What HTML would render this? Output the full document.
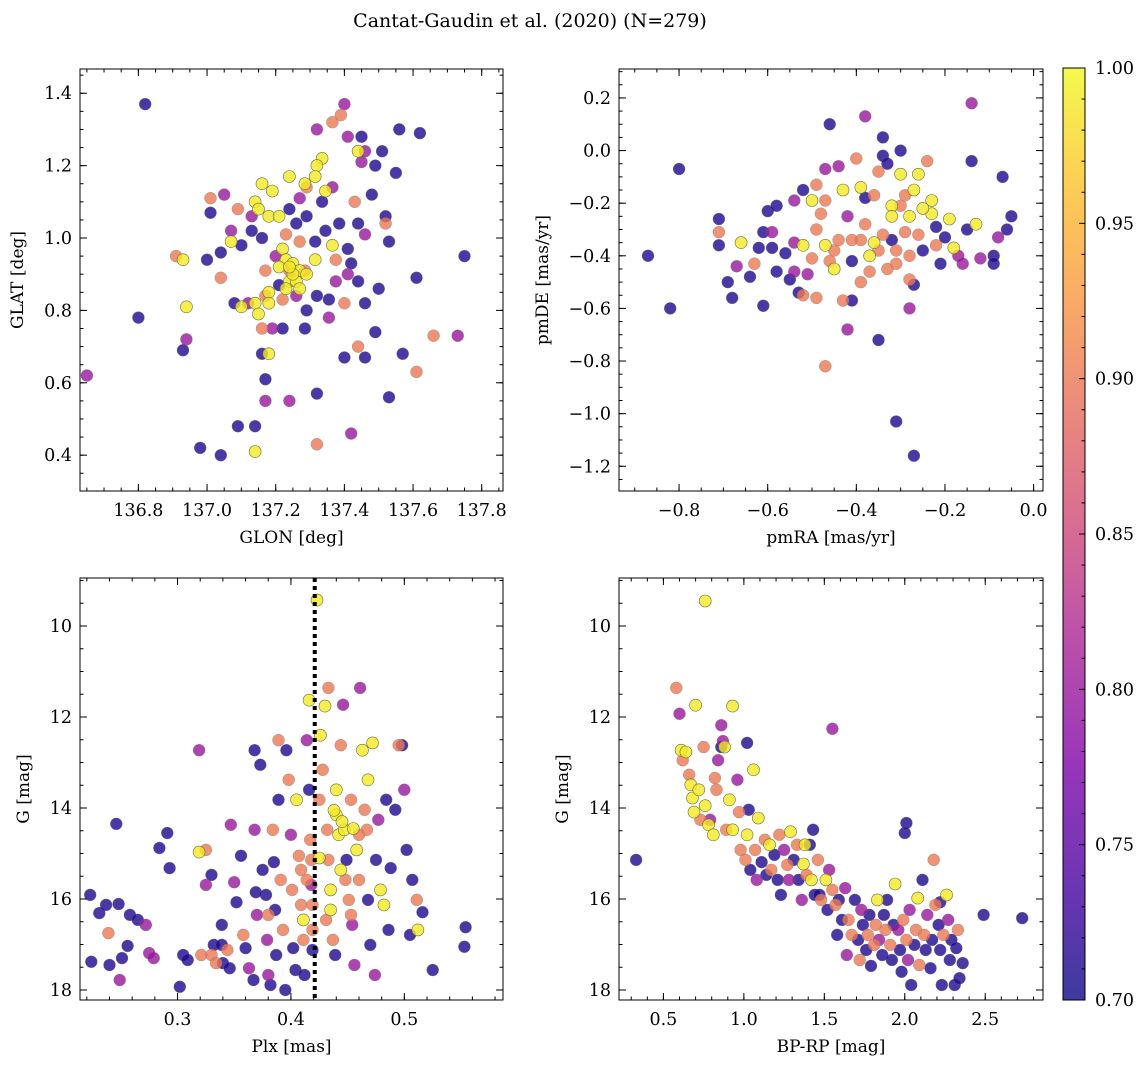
<!DOCTYPE html>
<html><head><meta charset="utf-8">
<style>
body{margin:0;background:#fff;}
svg{display:block;font-family:"DejaVu Serif","Liberation Serif",serif;}
</style></head>
<body>
<svg id="fig" width="1148" height="1068" viewBox="0 0 1148 1068" xmlns="http://www.w3.org/2000/svg">
<rect width="1148" height="1068" fill="#fff"/>
<text x="530" y="27" font-size="19" text-anchor="middle">Cantat-Gaudin et al. (2020) (N=279)</text>
</svg>
<script>
// ---- data: [x, y, membership probability] ----
const b=0.71,p=0.80,s=0.90,y=0.99;
const posData=[[136.82,1.37,b],[136.65,0.62,p],[136.80,0.78,b],[136.93,0.69,b],[136.94,0.72,p],[136.98,0.42,b],[137.04,0.40,b],[137.09,0.48,b],[137.14,0.48,b],[137.14,0.41,y],[137.17,0.61,b],[137.17,0.55,p],[137.24,0.55,p],[137.32,0.57,b],[137.32,0.43,s],[137.42,0.46,p],[137.44,0.70,s],[137.40,0.67,b],[137.46,0.67,b],[137.49,0.74,b],[137.57,0.68,b],[137.53,0.56,b],[137.61,0.63,s],[137.66,0.73,s],[137.73,0.73,p],[137.75,0.95,b],[137.61,0.89,b],[137.56,1.30,b],[137.62,1.29,b],[137.55,1.18,b],[137.52,1.06,b],[137.53,0.99,b],[137.50,0.86,b],[137.40,1.37,p],[137.39,1.34,s],[137.365,1.32,s],[137.32,1.30,p],[137.41,1.28,p],[137.45,1.28,b],[137.46,1.24,p],[137.44,1.24,y],[137.51,1.24,b],[137.49,1.20,b],[137.45,1.21,p],[137.335,1.22,y],[137.32,1.20,y],[137.315,1.17,y],[137.285,1.15,y],[137.24,1.17,y],[137.19,1.13,y],[137.16,1.15,y],[137.14,1.10,y],[137.15,1.08,y],[137.18,1.06,y],[137.21,1.06,y],[137.13,1.06,p],[137.09,1.08,s],[137.01,1.11,s],[137.05,1.12,p],[137.01,1.07,b],[137.07,1.02,p],[137.07,0.99,y],[137.10,0.98,b],[137.04,0.96,b],[137.0,0.94,b],[136.91,0.95,s],[136.93,0.94,y],[136.94,0.81,y],[137.04,0.89,s],[137.08,0.82,b],[137.12,0.82,p],[137.10,0.81,y],[137.14,0.82,y],[137.15,0.79,y],[137.18,0.85,y],[137.21,0.87,b],[137.24,0.91,s],[137.18,0.82,y],[137.16,0.75,s],[137.19,0.75,p],[137.22,0.75,b],[137.285,0.75,b],[137.18,0.68,y],[137.16,0.68,b],[137.17,0.91,s],[137.20,0.95,p],[137.22,0.97,y],[137.27,0.99,s],[137.23,1.01,s],[137.26,1.04,b],[137.29,1.06,b],[137.315,0.99,b],[137.315,0.94,y],[137.23,0.94,y],[137.25,0.93,y],[137.27,0.91,y],[137.21,0.92,y],[137.24,0.88,y],[137.26,0.88,y],[137.29,0.90,y],[137.22,0.83,s],[137.26,0.84,p],[137.32,0.84,b],[137.355,0.83,b],[137.375,0.88,p],[137.375,0.94,s],[137.365,0.98,y],[137.345,1.02,b],[137.385,1.04,b],[137.41,0.97,b],[137.42,0.93,b],[137.41,0.90,p],[137.44,0.88,b],[137.46,0.82,b],[137.40,0.82,s],[137.46,1.01,p],[137.43,1.10,s],[137.48,1.12,b],[137.44,1.04,b],[137.52,1.04,s],[137.335,1.10,b],[137.345,1.13,y],[137.365,1.14,p],[137.29,1.14,s],[137.27,1.11,p],[137.24,1.08,b],[137.13,1.02,b],[137.16,1.00,b],[137.29,0.80,b],[137.355,0.78,p],[137.285,0.91,s],[137.17,0.84,s],[137.25,0.90,y],[137.23,0.86,y],[137.27,0.86,y],[137.24,0.92,y]];
const pmData=[[-0.87,-0.40,b],[-0.82,-0.60,b],[-0.80,-0.07,b],[-0.71,-0.26,b],[-0.71,-0.36,b],[-0.71,-0.31,s],[-0.69,-0.50,b],[-0.68,-0.56,b],[-0.67,-0.44,p],[-0.66,-0.35,y],[-0.64,-0.48,b],[-0.63,-0.43,s],[-0.62,-0.37,b],[-0.61,-0.59,b],[-0.61,-0.31,b],[-0.59,-0.31,p],[-0.59,-0.37,b],[-0.60,-0.23,b],[-0.58,-0.21,b],[-0.58,-0.46,b],[-0.56,-0.39,b],[-0.55,-0.49,b],[-0.54,-0.35,p],[-0.54,-0.46,p],[-0.53,-0.54,b],[-0.52,-0.36,y],[-0.51,-0.47,p],[-0.50,-0.41,s],[-0.49,-0.30,s],[-0.54,-0.19,p],[-0.52,-0.15,b],[-0.50,-0.19,y],[-0.49,-0.13,s],[-0.48,-0.24,s],[-0.47,-0.19,s],[-0.46,0.10,b],[-0.47,-0.07,p],[-0.47,-0.82,s],[-0.49,-0.56,s],[-0.47,-0.36,y],[-0.45,-0.45,y],[-0.45,-0.38,s],[-0.44,-0.06,p],[-0.43,-0.15,y],[-0.42,-0.25,p],[-0.41,-0.34,s],[-0.41,-0.42,b],[-0.42,-0.68,p],[-0.41,-0.57,b],[-0.39,-0.50,s],[-0.38,0.13,p],[-0.40,-0.03,s],[-0.39,-0.14,y],[-0.38,-0.28,s],[-0.38,-0.18,b],[-0.37,-0.40,y],[-0.37,-0.46,s],[-0.36,-0.17,s],[-0.35,-0.08,s],[-0.35,-0.72,b],[-0.34,0.05,b],[-0.34,-0.02,b],[-0.33,-0.05,b],[-0.32,-0.21,y],[-0.32,-0.34,b],[-0.33,-0.45,s],[-0.31,-1.03,b],[-0.30,0.0,b],[-0.30,-0.09,y],[-0.30,-0.21,s],[-0.29,-0.17,s],[-0.29,-0.31,s],[-0.28,-0.40,s],[-0.28,-0.49,s],[-0.28,-0.60,p],[-0.27,-0.51,b],[-0.27,-1.16,b],[-0.26,-0.09,y],[-0.27,-0.15,y],[-0.24,-0.04,s],[-0.23,-0.19,y],[-0.23,-0.24,y],[-0.22,-0.29,b],[-0.22,-0.36,s],[-0.21,-0.43,b],[-0.20,-0.33,b],[-0.19,-0.26,y],[-0.18,-0.37,y],[-0.17,-0.40,p],[-0.16,-0.43,p],[-0.15,-0.30,b],[-0.14,0.18,p],[-0.14,-0.04,b],[-0.13,-0.28,y],[-0.12,-0.41,p],[-0.09,-0.40,b],[-0.09,-0.43,b],[-0.08,-0.33,p],[-0.07,-0.10,b],[-0.05,-0.25,b],[-0.06,-0.30,b],[-0.34,-0.32,s],[-0.35,-0.38,s],[-0.31,-0.38,s],[-0.31,-0.43,s],[-0.32,-0.25,y],[-0.26,-0.32,s],[-0.25,-0.22,y],[-0.25,-0.38,b],[-0.39,-0.34,s],[-0.44,-0.34,s],[-0.46,-0.42,s],[-0.52,-0.55,s],[-0.43,-0.57,s],[-0.36,-0.35,y],[-0.28,-0.25,y]];
const plxData=[[0.223,15.91,b],[0.224,17.38,b],[0.231,16.31,b],[0.237,16.13,b],[0.239,16.75,s],[0.240,17.45,b],[0.246,14.35,b],[0.248,16.11,b],[0.249,17.78,p],[0.251,17.30,b],[0.256,17.03,b],[0.258,16.35,b],[0.265,16.46,b],[0.272,16.57,p],[0.275,17.19,p],[0.279,17.30,p],[0.284,14.88,b],[0.291,14.55,b],[0.293,15.32,b],[0.302,17.93,b],[0.305,17.23,b],[0.309,17.34,b],[0.319,12.73,p],[0.319,14.97,y],[0.321,17.23,s],[0.325,14.92,s],[0.325,15.69,p],[0.330,15.47,b],[0.330,17.23,s],[0.332,17.01,b],[0.334,17.41,s],[0.339,16.57,b],[0.339,17.01,b],[0.340,17.41,b],[0.344,17.12,s],[0.346,17.52,b],[0.347,14.37,p],[0.350,15.63,p],[0.352,16.07,b],[0.356,15.05,b],[0.358,16.79,s],[0.360,17.08,b],[0.363,17.52,p],[0.367,17.78,b],[0.368,12.73,b],[0.368,14.48,p],[0.370,16.35,p],[0.373,13.05,b],[0.375,15.36,b],[0.378,15.91,b],[0.379,16.90,p],[0.380,17.67,p],[0.382,17.89,b],[0.384,14.48,s],[0.385,15.19,b],[0.386,16.24,b],[0.387,17.23,b],[0.389,12.51,s],[0.389,13.82,b],[0.391,15.58,s],[0.393,16.68,s],[0.395,18.0,b],[0.396,12.73,b],[0.398,13.38,s],[0.400,14.59,p],[0.401,15.80,s],[0.402,17.08,b],[0.404,17.56,b],[0.405,13.82,y],[0.407,15.05,s],[0.409,16.13,s],[0.411,16.46,y],[0.411,16.90,s],[0.412,17.67,b],[0.414,12.51,p],[0.414,15.58,s],[0.416,11.63,y],[0.416,13.60,b],[0.417,14.70,s],[0.418,15.14,s],[0.418,15.69,p],[0.419,16.13,s],[0.419,16.68,s],[0.419,17.12,b],[0.423,9.43,y],[0.425,13.82,s],[0.426,12.40,y],[0.428,13.16,s],[0.430,11.76,y],[0.432,14.48,s],[0.433,11.36,s],[0.433,15.14,s],[0.435,15.80,y],[0.435,16.24,y],[0.437,16.90,s],[0.439,17.23,b],[0.440,13.60,y],[0.440,14.15,y],[0.442,14.59,y],[0.444,15.36,y],[0.444,12.62,s],[0.446,11.73,p],[0.447,14.48,y],[0.449,15.14,b],[0.451,16.02,s],[0.453,16.35,s],[0.454,16.57,p],[0.456,17.45,p],[0.458,14.92,y],[0.460,15.58,s],[0.461,11.36,p],[0.463,12.73,y],[0.465,14.04,s],[0.467,14.48,s],[0.468,13.38,y],[0.468,16.02,b],[0.470,17.01,b],[0.472,12.57,y],[0.474,17.67,p],[0.475,15.14,b],[0.477,14.26,p],[0.479,15.80,y],[0.482,16.13,y],[0.484,13.82,b],[0.486,16.68,b],[0.488,15.32,b],[0.492,14.04,b],[0.495,12.62,s],[0.498,12.62,b],[0.500,13.60,p],[0.502,14.92,b],[0.505,16.79,b],[0.507,15.58,b],[0.511,16.02,s],[0.512,16.68,y],[0.516,16.29,b],[0.525,17.56,b],[0.554,16.62,b],[0.553,17.05,b],[0.369,15.85,b],[0.380,16.35,s],[0.448,15.58,s],[0.431,16.46,s],[0.425,15.10,y],[0.409,15.36,s],[0.460,14.59,s],[0.453,13.82,s],[0.445,14.30,y],[0.438,14.05,y],[0.455,14.45,y]];
const cmdData=[[0.33,15.14,b],[0.58,11.36,s],[0.60,11.93,p],[0.61,12.73,y],[0.62,12.95,s],[0.64,12.77,y],[0.66,13.27,s],[0.67,13.49,y],[0.68,13.78,y],[0.69,14.09,y],[0.70,11.74,y],[0.72,13.60,y],[0.73,14.26,s],[0.75,12.66,s],[0.76,13.95,y],[0.78,14.37,y],[0.79,14.26,p],[0.81,14.59,y],[0.82,13.34,s],[0.83,13.60,s],[0.84,12.95,p],[0.86,12.66,b],[0.88,12.66,y],[0.89,14.48,s],[0.91,13.82,y],[0.93,14.48,y],[0.76,9.45,y],[0.96,13.38,p],[0.97,14.09,s],[0.98,14.92,s],[0.86,12.18,p],[1.01,15.14,s],[1.02,14.59,y],[1.03,14.04,b],[1.04,15.36,b],[0.87,12.53,p],[1.06,13.16,y],[1.07,14.92,s],[1.08,15.58,p],[1.09,14.22,y],[1.11,15.19,b],[0.93,11.76,y],[1.13,14.70,s],[1.14,15.47,b],[1.16,14.81,y],[1.17,15.36,s],[1.19,15.03,b],[1.21,15.58,b],[1.22,14.59,s],[1.23,15.91,b],[1.25,14.92,p],[1.27,15.25,s],[1.28,15.58,p],[1.29,14.52,y],[1.31,15.14,b],[1.33,14.81,s],[1.34,15.58,b],[1.36,16.02,p],[1.37,15.23,y],[1.38,14.81,y],[1.39,15.47,s],[1.41,14.81,b],[1.42,15.58,y],[1.43,14.48,b],[1.44,15.91,b],[1.46,15.14,s],[1.47,15.91,b],[1.48,16.02,s],[1.51,15.58,y],[1.52,16.24,b],[1.53,15.36,p],[1.55,15.80,s],[1.57,16.13,s],[1.58,16.79,b],[1.59,16.02,b],[1.61,16.46,b],[1.63,15.76,p],[1.64,17.23,p],[1.65,16.46,s],[1.67,16.79,s],[1.69,16.02,b],[1.71,16.90,b],[1.72,17.34,s],[1.73,16.24,p],[1.74,16.57,b],[1.76,17.12,b],[1.77,16.79,s],[1.78,16.35,b],[1.79,17.47,b],[1.81,17.01,s],[1.82,16.57,s],[1.83,16.02,y],[1.84,16.90,p],[1.86,17.23,b],[1.87,16.35,b],[1.88,16.68,s],[1.89,16.02,b],[1.91,17.01,s],[1.92,17.34,b],[1.93,16.57,b],[1.94,15.67,y],[1.96,16.68,p],[1.97,17.12,b],[1.98,17.60,b],[1.99,16.46,s],[2.01,16.90,s],[2.02,17.34,p],[2.03,16.24,p],[2.04,17.89,b],[2.06,17.01,b],[2.07,16.68,s],[2.08,15.98,y],[2.09,17.45,s],[2.11,15.58,b],[2.12,16.79,s],[2.13,17.12,b],[2.14,16.35,p],[2.16,17.52,b],[2.17,16.90,b],[2.18,15.14,s],[2.19,16.13,s],[2.21,16.57,b],[2.22,17.12,b],[2.23,17.89,b],[2.24,16.79,s],[2.26,15.91,y],[2.27,16.46,p],[2.28,17.34,b],[2.29,16.90,b],[2.31,17.89,b],[2.32,17.08,b],[2.33,16.68,s],[2.34,17.74,b],[2.36,17.41,b],[2.49,16.35,b],[2.73,16.42,b],[2.01,14.33,b],[2.00,14.55,b],[2.22,16.07,b],[1.55,12.26,p],[1.02,12.57,b]];
const plxLine=[0.421];
const posXTicks=[136.8,137.0,137.2,137.4,137.6,137.8];
const posYTicks=[0.4,0.6,0.8,1.0,1.2,1.4];
const pmXTicks=[-0.8,-0.6,-0.4,-0.2,0.0];
const pmYTicks=[-1.2,-1.0,-0.8,-0.6,-0.4,-0.2,0.0,0.2];
const plxXTicks=[0.3,0.4,0.5];
const gTicks=[10,12,14,16,18];
const bprpTicks=[0.5,1.0,1.5,2.0,2.5];
const cbTicks=[0.70,0.75,0.80,0.85,0.90,0.95,1.00];

const svg=document.getElementById('fig');
const NS='http://www.w3.org/2000/svg';
function mk(tag,attrs,parent){const e=document.createElementNS(NS,tag);for(const k in attrs)e.setAttribute(k,attrs[k]);(parent||svg).appendChild(e);return e;}
const stops=[[0,[13,8,135]],[0.13,[75,3,161]],[0.25,[125,3,168]],[0.38,[168,34,150]],[0.5,[203,70,121]],[0.63,[229,107,93]],[0.75,[248,148,65]],[0.88,[253,195,40]],[1,[240,249,33]]];
function plasma(t){t=Math.max(0,Math.min(1,t));for(let i=1;i<stops.length;i++){if(t<=stops[i][0]){const a=stops[i-1],c=stops[i];const f=(t-a[0])/(c[0]-a[0]);return 'rgb('+a[1].map((v,j)=>Math.round(v+(c[1][j]-v)*f)).join(',')+')';}}return 'rgb(240,249,33)';}
function cmap(c){return plasma((c-0.7)/0.3);}
const FS=17.5;
function fmt(v,d){return (v<0?'\u2212':'')+Math.abs(v).toFixed(d);}
function panel(o){
  const g=mk('g',{});
  
  
  const X=v=>o.x0+(v-o.xmin)/(o.xmax-o.xmin)*(o.x1-o.x0);
  const Y=o.invert?(v=>o.y0+(v-o.ymin)/(o.ymax-o.ymin)*(o.y1-o.y0)):(v=>o.y1-(v-o.ymin)/(o.ymax-o.ymin)*(o.y1-o.y0));
  const pts=o.data.slice().sort((a,c)=>a[2]-c[2]);
  const pg=mk('g',{},g);
  
  
  pts.forEach(d=>{const c=mk('circle',{cx:X(d[0]).toFixed(1),cy:Y(d[1]).toFixed(1),r:6,fill:cmap(d[2]),'fill-opacity':0.8,stroke:d[2]>0.95?'#6a6a40':'#777',"stroke-width":d[2]>0.95?0.6:0.3},pg);
    
    });
  if(o.vline){o.vline.forEach(v=>{const l=mk('line',{x1:X(v),x2:X(v),y1:o.y0,y2:o.y1,stroke:'#000','stroke-width':4,'stroke-dasharray':'4,4'},g);
    
    });}
  const fr=mk('rect',{x:o.x0,y:o.y0,width:o.x1-o.x0,height:o.y1-o.y0,fill:'none',stroke:'#000','stroke-width':1},g);
  
  
  const tk=mk('g',{stroke:'#000','stroke-width':1},g);
  const eps=1e-9;
  for(let v=Math.ceil(o.xmin/o.xminor)*o.xminor;v<=o.xmax+eps;v+=o.xminor){const px=X(v);mk('line',{x1:px,x2:px,y1:o.y1,y2:o.y1-3.5},tk);mk('line',{x1:px,x2:px,y1:o.y0,y2:o.y0+3.5},tk);}
  for(let v=Math.ceil(o.ymin/o.yminor)*o.yminor;v<=o.ymax+eps;v+=o.yminor){const py=Y(v);mk('line',{x1:o.x0,x2:o.x0+3.5,y1:py,y2:py},tk);mk('line',{x1:o.x1,x2:o.x1-3.5,y1:py,y2:py},tk);}
  o.xticks.forEach(v=>{const px=X(v);mk('line',{x1:px,x2:px,y1:o.y1,y2:o.y1-7},tk);mk('line',{x1:px,x2:px,y1:o.y0,y2:o.y0+7},tk);
    const t=mk('text',{x:px,y:o.y1+25,'font-size':FS,'text-anchor':'middle'},g);t.textContent=fmt(v,o.xd);
    
    });
  o.yticks.forEach(v=>{const py=Y(v);mk('line',{x1:o.x0,x2:o.x0+7,y1:py,y2:py},tk);mk('line',{x1:o.x1,x2:o.x1-7,y1:py,y2:py},tk);
    const t=mk('text',{x:o.x0-8,y:py+6,'font-size':FS,'text-anchor':'end'},g);t.textContent=fmt(v,o.yd);
    
    });
  const xl=mk('text',{x:(o.x0+o.x1)/2,y:o.y1+52,'font-size':17,'text-anchor':'middle'},g);xl.textContent=o.xlabel;
  
  
  const yx=o.ylx,yy=(o.y0+o.y1)/2;
  const yl=mk('text',{x:yx,y:yy,'font-size':17,'text-anchor':'middle',transform:`rotate(-90 ${yx} ${yy})`},g);yl.textContent=o.ylabel;
  
  
}
panel({name:'position-panel',data:posData,x0:80,x1:503,y0:69,y1:491,xmin:136.630,xmax:137.862,ymin:0.301,ymax:1.467,xticks:posXTicks,yticks:posYTicks,xminor:0.05,yminor:0.05,xd:1,yd:1,xlabel:'GLON [deg]',ylabel:'GLAT [deg]',ylx:23});
panel({name:'proper-motion-panel',data:pmData,x0:619,x1:1043,y0:69,y1:491,xmin:-0.9355,xmax:0.0212,ymin:-1.294,ymax:0.310,xticks:pmXTicks,yticks:pmYTicks,xminor:0.05,yminor:0.05,xd:1,yd:1,xlabel:'pmRA [mas/yr]',ylabel:'pmDE [mas/yr]',ylx:548});
panel({name:'parallax-panel',data:plxData,x0:80,x1:503,y0:578,y1:1000,xmin:0.214,xmax:0.587,ymin:8.945,ymax:18.22,invert:true,xticks:plxXTicks,yticks:gTicks,xminor:0.02,yminor:0.5,xd:1,yd:0,xlabel:'Plx [mas]',ylabel:'G [mag]',ylx:29,vline:plxLine});
panel({name:'cmd-panel',data:cmdData,x0:619,x1:1043,y0:578,y1:1000,xmin:0.224,xmax:2.859,ymin:8.945,ymax:18.22,invert:true,xticks:bprpTicks,yticks:gTicks,xminor:0.1,yminor:0.5,xd:1,yd:0,xlabel:'BP-RP [mag]',ylabel:'G [mag]',ylx:568});

const cb=mk('g',{});


const defs=mk('defs',{},cb);
const lg=mk('linearGradient',{id:'cbg',x1:0,y1:1,x2:0,y2:0},defs);
for(let i=0;i<=20;i++){mk('stop',{offset:i/20,'stop-color':plasma(i/20),'stop-opacity':0.8},lg);}
const cbx0=1063,cbx1=1085,cby0=68,cby1=1000;
mk('rect',{x:cbx0,y:cby0,width:cbx1-cbx0,height:cby1-cby0,fill:'url(#cbg)',stroke:'#000','stroke-width':1},cb);
const CY=v=>cby1-(v-0.7)/0.3*(cby1-cby0);
for(let i=0;i<=30;i++){const v=0.7+i*0.01;const py=CY(v);const major=i%5===0;mk('line',{x1:cbx1,x2:cbx1-(major?6:3.5),y1:py,y2:py,stroke:'#000','stroke-width':1},cb);}
cbTicks.forEach(v=>{const t=mk('text',{x:cbx1+10,y:CY(v)+6,'font-size':FS},cb);t.textContent=v.toFixed(2);
  
  });
</script>
</body></html>
